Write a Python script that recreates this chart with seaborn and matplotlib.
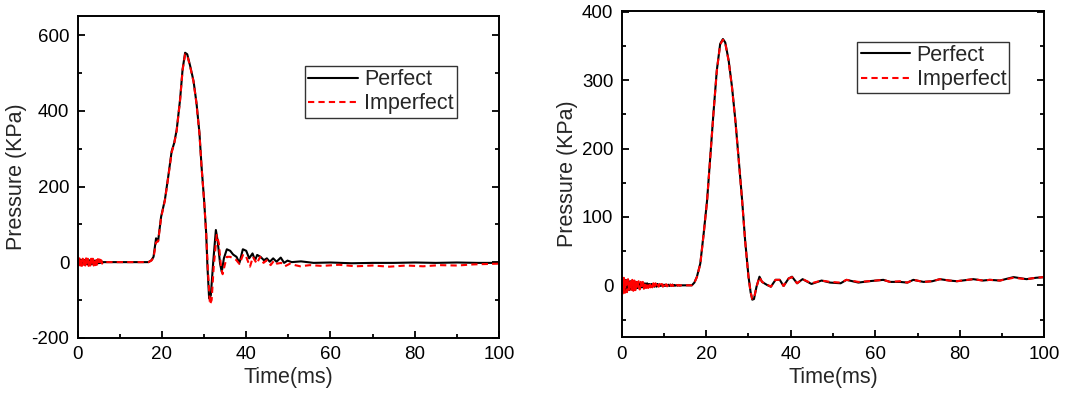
import matplotlib
matplotlib.use("Agg")
import matplotlib.pyplot as plt
from matplotlib.ticker import MultipleLocator
import pandas as pd
import seaborn as sns

# ---------------- data ----------------
SERIES = ["Perfect", "Imperfect"]
X_LABEL = "Time(ms)"
Y_LABEL = "Pressure (KPa)"

# Left gauge: numerical start-up ringing (0-6 ms)
left_ring_t = [0.0, 0.2, 0.4, 0.6, 0.8, 1.0, 1.2, 1.4, 1.6, 1.8, 2.0, 2.2, 2.4, 2.6, 2.8, 3.0,
               3.2, 3.4, 3.6, 3.8, 4.0, 4.2, 4.4, 4.6, 4.8, 5.0, 5.2, 5.4, 5.6, 5.8, 6.0]
left_ring_perfect = [6, -7, 7, -6, 6, -6, 5, -6, 6, -5, 6, -5, 5, -6, 5, -5,
                     5, -5, 4, -4, 4, -4, 4, -4, 3, -3, 3, -2, 2, -1, 0]
left_ring_imperfect = [10, -10, 10, -9, 10, -10, 9, -10, 10, -9, 10, -9, 9, -10, 9, -9,
                       9, -9, 9, -9, 9, -8, 8, -9, 8, -7, 7, -6, 5, -4, 0]

# Left gauge: blast pulse and decay
left_perfect_t = [6.2, 10, 16.8, 17.5, 18.0, 18.6, 19.1, 19.8, 20.7, 21.5, 22.3, 22.9, 23.5, 24.3,
                  24.9, 25.5, 26.0, 26.7, 27.5, 28.2, 28.9, 29.4, 30.0, 30.5, 30.8, 31.2, 31.6,
                  32.2, 32.8, 33.2, 33.8, 34.2, 34.7, 35.4, 36.2, 36.9, 37.7, 38.4, 39.2, 40.0,
                  40.7, 41.5, 42.1, 42.6, 43.4, 44.2, 44.9, 45.6, 46.4, 47.2, 48.2, 49.0, 49.8,
                  50.8, 53, 56, 60, 65, 70, 75, 80, 85, 90, 95, 100]
left_perfect_p = [0, 0, 0, 5, 14, 63, 57, 120, 165, 227, 293, 315, 350, 430,
                  510, 554, 550, 519, 479, 421, 342, 253, 165, 76, -12, -96, -88,
                  5, 85, 58, -4, -26, 10, 34, 30, 20, 14, -2, 34, 30,
                  10, 23, 5, 19, 14, 5, 10, 1, 10, 1, 12, -2, 4,
                  0, 2, -2, -1, -3, -2, -2, -1, -2, -1, -2, -2]

left_imperfect_t = [6.2, 10, 16.8, 17.5, 18.0, 18.6, 19.1, 19.8, 20.7, 21.5, 22.3, 22.9, 23.5, 24.3,
                    24.9, 25.5, 26.0, 26.7, 27.5, 28.2, 28.9, 29.4, 30.0, 30.5, 30.9, 31.4, 31.8,
                    32.3, 33.0, 33.5, 34.0, 34.4, 34.9, 35.4, 36.2, 36.9, 37.6, 38.4, 39.3, 40.0,
                    40.9, 41.6, 42.5, 43.3, 44.1, 44.9, 45.8, 46.6, 47.3, 48.3, 49.2, 50.4, 51.6,
                    52.8, 55.1, 58, 62, 66, 70, 74, 78, 82, 86, 90, 94, 97, 100]
left_imperfect_p = [0, 0, 0, 4, 12, 52, 55, 118, 163, 225, 290, 313, 348, 428,
                    508, 550, 547, 517, 477, 419, 340, 251, 163, 74, -20, -112, -100,
                    -10, 72, 50, -10, -32, -8, 14, 14, 10, 6, -5, 21, 14,
                    -12, 14, -4, 14, -2, 5, -8, 4, -4, -2, -11, -4, -8,
                    -11, -8, -10, -7, -11, -9, -12, -9, -11, -8, -9, -6, -5, -4]

# Right gauge: start-up ringing (0-14 ms)
right_ring_t = [0.0, 0.25, 0.5, 0.75, 1.0, 1.25, 1.5, 1.75, 2.0, 2.25, 2.5, 2.75, 3.0, 3.25,
                3.5, 3.75, 4.0, 4.25, 4.5, 4.75, 5.0, 5.25, 5.5, 5.75, 6.0, 6.25, 6.5, 6.75,
                7.0, 7.25, 7.5, 7.75, 8.0, 8.25, 8.5, 8.75, 9.0, 9.25, 9.5, 9.75, 10.0,
                10.25, 10.5, 10.75, 11.0, 11.25, 11.5, 11.75, 12.0, 12.25, 12.5, 12.75,
                13.0, 13.25, 13.5, 13.75, 14.0]
right_ring_perfect = [9, -9, 9, -8, 8, -7, 7, -7, 6, -6, 6, -5, 5, -5, 5, -4, 4, -4, 4, -3,
                      3, -3, 3, -3, 3, -2, 2, -2, 2, -2, 2, -2, 2, -2, 2, -1, 1, -1, 1, -1, 1,
                      -1, 1, -1, 1, -1, 1, -1, 1, -1, 0.5, -0.5, 0.5, -0.5, 0.5, -0.5, 0]
right_ring_imperfect = [12, -12, 11, -11, 10, -10, 9, -9, 9, -8, 8, -8, 7, -7, 7, -6, 6, -6, 5, -5,
                        5, -5, 4, -4, 4, -4, 4, -3, 3, -3, 3, -3, 3, -2, 2, -2, 2, -2, 2, -2, 2,
                        -2, 1.5, -1.5, 1.5, -1.5, 1, -1, 1, -1, 1, -1, 0.5, -0.5, 0.5, -0.5, 0]

# Right gauge: blast pulse and decay
right_t = [14.25, 15.5, 16.6, 17.2, 17.8, 18.6, 19.4, 20.2, 20.9, 21.7, 22.5, 23.3, 23.95, 24.5,
           25.3, 26.1, 26.9, 27.7, 28.5, 29.2, 30.0, 30.5, 30.9, 31.3, 31.9, 32.6, 33.2, 34.4,
           35.3, 36.4, 37.4, 38.3, 39.5, 40.3, 41.5, 42.8, 44.9, 47.3, 49.3, 51.8, 53.2, 56.0,
           58.5, 61.9, 63.5, 65.8, 67.6, 69.0, 71.4, 73.5, 75.3, 77.5, 79.3, 83.2, 85.5, 87.1,
           89.5, 92.7, 95.8, 98.0, 100.0]
right_perfect_p = [0, 0, 0, 4, 12.6, 32, 76, 124, 183, 251, 314, 353, 360, 355,
                   329, 290, 241, 183, 124, 66, 13, -10, -21, -20, -2, 12.6, 5, 0.5,
                   -2, 8, 8, -1, 10, 12.6, 3, 9, 2, 7, 4, 3, 8, 4,
                   6, 8, 5, 5, 4, 8, 5, 6, 9, 7, 6, 9, 7, 8,
                   7, 12, 9, 11, 12]
right_imperfect_p = [0, 0, 0, 4, 12, 31, 75, 123, 182, 250, 313, 352, 359, 354,
                     328, 289, 240, 182, 123, 65, 12, -10, -20, -19, -2, 12, 5, 1,
                     -2, 8, 8, -1, 10, 12, 3, 9, 3, 7, 5, 4, 8, 5,
                     6, 8, 5, 6, 4, 8, 5, 6, 9, 7, 6, 9, 7, 8,
                     7, 11, 9, 11, 12]

left_yticks = [-200, 0, 200, 400, 600]
right_yticks = [0, 100, 200, 300, 400]
x_ticks = [0, 20, 40, 60, 80, 100]


def frame(perfect_t, perfect_p, imperfect_t, imperfect_p):
    parts = [
        pd.DataFrame({"time": perfect_t, "pressure": perfect_p, "series": "Perfect"}),
        pd.DataFrame({"time": imperfect_t, "pressure": imperfect_p, "series": "Imperfect"}),
    ]
    return pd.concat(parts, ignore_index=True)


left_df = frame(left_ring_t + left_perfect_t, left_ring_perfect + left_perfect_p,
                left_ring_t + left_imperfect_t, left_ring_imperfect + left_imperfect_p)
right_df = frame(right_ring_t + right_t, right_ring_perfect + right_perfect_p,
                 right_ring_t + right_t, right_ring_imperfect + right_imperfect_p)

# ---------------- style ----------------
sns.set_theme(style="ticks")
plt.rcParams["font.family"] = ["Liberation Sans", "DejaVu Sans"]
plt.rcParams["axes.unicode_minus"] = False

fig = plt.figure(figsize=(10.85, 3.96), dpi=100)
ax_l = fig.add_axes([0.0716, 0.1472, 0.3883, 0.8131])
ax_r = fig.add_axes([0.5730, 0.1482, 0.3895, 0.8240])

palette = {"Perfect": "black", "Imperfect": "#ff0000"}
dashes = {"Perfect": "", "Imperfect": (3, 2)}

panels = [
    (ax_l, left_df, (-200, 652), left_yticks, 100, (0.5395, 0.844)),
    (ax_r, right_df, (-76, 401), right_yticks, 50, (0.5575, 0.906)),
]

for ax, df, ylim, yticks, yminor, leg_anchor in panels:
    sns.lineplot(data=df, x="time", y="pressure", hue="series", style="series",
                 hue_order=SERIES, style_order=SERIES, palette=palette, dashes=dashes,
                 estimator=None, sort=False, linewidth=1.5, ax=ax)
    ax.set_xlim(0, 100)
    ax.set_ylim(*ylim)
    ax.set_xticks(x_ticks)
    ax.set_yticks(yticks)
    ax.xaxis.set_minor_locator(MultipleLocator(10))
    ax.yaxis.set_minor_locator(MultipleLocator(yminor))
    ax.tick_params(which="both", direction="in", right=True, top=False,
                   colors="black", labelsize=13.5, width=1.3)
    ax.tick_params(which="major", length=5, pad=6)
    ax.tick_params(which="minor", length=3)
    for sp in ax.spines.values():
        sp.set_visible(True)
        sp.set_color("black")
        sp.set_linewidth(1.4)
    ax.set_xlabel(X_LABEL, fontsize=15.5, labelpad=3)
    ax.set_ylabel(Y_LABEL, fontsize=15.5, labelpad=3)

    handles, labels = ax.get_legend_handles_labels()
    leg = ax.legend(handles, labels, loc="upper left", bbox_to_anchor=leg_anchor,
                    borderaxespad=0, fontsize=15.5, frameon=True, fancybox=False,
                    handlelength=2.3, handletextpad=0.3, borderpad=0.15,
                    labelspacing=0.15)
    leg.get_frame().set_edgecolor("black")
    leg.get_frame().set_linewidth(1.0)
    for h in leg.get_lines():
        h.set_linewidth(1.5)

fig.savefig("out.png", dpi=100)
